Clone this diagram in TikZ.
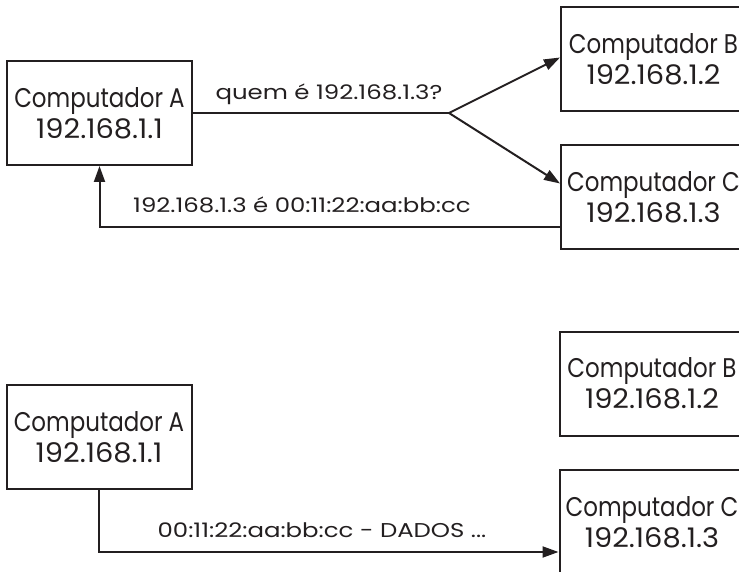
\documentclass[tikz,border=0pt]{standalone}
\usepackage{fontspec}
\setmainfont{Poppins}
\newfontfamily\pcfont[FakeStretch=0.85]{Poppins}
\newfontfamily\ipfont[FakeStretch=1.07]{Poppins}
\newfontfamily\msgfont[FakeStretch=1.22]{Poppins}
\usetikzlibrary{arrows.meta,positioning}
\definecolor{ink}{HTML}{231F20}

\begin{document}
\begin{tikzpicture}[x = 1pt, y = -1pt, line width = 2pt, color = ink,
  >={Triangle[length=16pt,width=11pt]},
  pc/.style = {draw, minimum width = 185pt, minimum height = 104pt, inner sep = 0pt,
    align = center, font = \pcfont\fontsize{27}{31}\selectfont},
  msg/.style = {anchor = base, inner sep = 0pt, font = \msgfont\fontsize{20}{22}\selectfont}]
\useasboundingbox (0,0) rectangle (739,572);
% ARP pergunta e resposta
\node[pc] (A1) at (99.5,113) {Computador A\\\ipfont 192.168.1.1};
\node[pc] (B1) at (653.5,59.5) {Computador B\\\ipfont 192.168.1.2};
\node[pc] (C1) at (653.5,197.5) {Computador C\\\ipfont 192.168.1.3};
\coordinate (fork) at (449,113);
\node[msg] (Q) at (329,100) {quem é 192.168.1.3?};
\node[msg] (R) at (302,213) {192.168.1.3 é 00:11:22:aa:bb:cc};
\draw (A1.east) -- (fork);
\draw [->] (fork) -- ([yshift=2pt]B1.west);
\draw [->] (fork) -- ([yshift=14pt]C1.west);
\draw [->] ([yshift=-30pt]C1.west) -| (A1.south);
% envio dos dados
\node[pc] (A2) at (99,437) {Computador A\\\ipfont 192.168.1.1};
\node[pc] (B2) at (652,383.5) {Computador B\\\ipfont 192.168.1.2};
\node[pc] (C2) at (652,522) {Computador C\\\ipfont 192.168.1.3};
\node[msg] (D) at (322,537) {00:11:22:aa:bb:cc - DADOS ...};
\draw [->] (A2.south) |- ([yshift=-30pt]C2.west);
\end{tikzpicture}
\end{document}
